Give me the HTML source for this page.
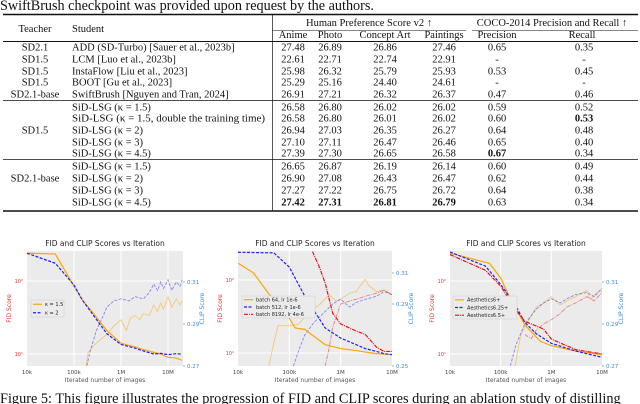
<!DOCTYPE html>
<html><head><meta charset="utf-8"><style>
html,body{margin:0;padding:0;background:#fff;width:640px;height:404px;overflow:hidden}
svg{display:block}
.serif{font-family:"Liberation Serif",serif}
.sans{font-family:"DejaVu Sans","Liberation Sans",sans-serif}
</style></head><body>
<svg id="root" width="640" height="404" viewBox="0 0 640 404" xmlns="http://www.w3.org/2000/svg">
<g class="serif" font-size="10.5" fill="#111">
<text x="0" y="10" font-size="14.2">SwiftBrush checkpoint was provided upon request by the authors.</text>
<line x1="3" y1="14.5" x2="638" y2="14.5" stroke="#111" stroke-width="1.6"/>
<line x1="3" y1="41.5" x2="638" y2="41.5" stroke="#111" stroke-width="1"/>
<line x1="3" y1="100.5" x2="638" y2="100.5" stroke="#111" stroke-width="0.7"/>
<line x1="3" y1="159.5" x2="638" y2="159.5" stroke="#111" stroke-width="0.7"/>
<line x1="3" y1="211" x2="638" y2="211" stroke="#111" stroke-width="1.6"/>
<line x1="272.5" y1="15" x2="272.5" y2="211" stroke="#111" stroke-width="0.7"/>
<line x1="272" y1="30.5" x2="466" y2="30.5" stroke="#111" stroke-width="0.6"/>
<line x1="472" y1="30.5" x2="638" y2="30.5" stroke="#111" stroke-width="0.6"/>
<text x="35" y="32" text-anchor="middle">Teacher</text>
<text x="72" y="32">Student</text>
<text x="369" y="26" text-anchor="middle">Human Preference Score v2 ↑</text>
<text x="552" y="26" text-anchor="middle">COCO-2014 Precision and Recall ↑</text>
<g text-anchor="middle">
<text x="293" y="38">Anime</text><text x="330" y="38">Photo</text><text x="385" y="38">Concept Art</text><text x="444" y="38">Paintings</text><text x="497" y="38">Precision</text><text x="582" y="38">Recall</text>
</g>
<g id="tbody"></g>
</g>
<g id="charts"></g>
<text class="serif" x="0" y="403" font-size="14.3" fill="#111">Figure 5: This figure illustrates the progression of FID and CLIP scores during an ablation study of distilling</text>
</svg>
<script>
const NS="http://www.w3.org/2000/svg";
function mk(tag,attrs,parent,txt){const e=document.createElementNS(NS,tag);for(const k in attrs)e.setAttribute(k,attrs[k]);if(txt!==undefined)e.textContent=txt;parent.appendChild(e);return e;}

// ---- table data ----
const rowY=[47,59,71,82,94,107,118,130,142,153,166,178,190,202];
const teachers=[["SD2.1",47],["SD1.5",59],["SD1.5",71],["SD1.5",82],["SD2.1-base",94],["SD1.5",130],["SD2.1-base",178]];
const students=["ADD (SD-Turbo) [Sauer et al., 2023b]","LCM [Luo et al., 2023b]","InstaFlow [Liu et al., 2023]","BOOT [Gu et al., 2023]","SwiftBrush [Nguyen and Tran, 2024]","SiD-LSG (κ = 1.5)","SiD-LSG (κ = 1.5, double the training time)","SiD-LSG (κ = 2)","SiD-LSG (κ = 3)","SiD-LSG (κ = 4.5)","SiD-LSG (κ = 1.5)","SiD-LSG (κ = 2)","SiD-LSG (κ = 3)","SiD-LSG (κ = 4.5)"];
const anime=["27.48","22.61","25.98","25.29","26.91","26.58","26.58","26.94","27.10","27.39","26.65","26.90","27.27","27.42"];
const photo=["26.89","22.71","26.32","25.16","27.21","26.80","26.80","27.03","27.11","27.30","26.87","27.08","27.22","27.31"];
const concept=["26.86","22.74","25.79","24.40","26.32","26.02","26.01","26.35","26.47","26.65","26.19","26.43","26.75","26.81"];
const paintings=["27.46","22.91","25.93","24.61","26.37","26.02","26.02","26.27","26.46","26.58","26.14","26.47","26.72","26.79"];
const precision=["0.65","-","0.53","-","0.47","0.59","0.60","0.64","0.65","0.67","0.60","0.62","0.64","0.63"];
const recall=["0.35","-","0.45","-","0.46","0.52","0.53","0.48","0.40","0.34","0.49","0.44","0.38","0.34"];
const bold={anime:[13],photo:[13],concept:[13],paintings:[13],precision:[9],recall:[6]};
const tb=document.getElementById('tbody');
teachers.forEach(t=>{const e=mk('text',{x:35,y:t[1]+3.5,'text-anchor':'middle'},tb,t[0]);

});
students.forEach((s,i)=>{const a={x:72,y:rowY[i]+3.5};if(i===6){a.textLength=193;a.lengthAdjust='spacingAndGlyphs';}
const e=mk('text',a,tb,s);

});
[[anime,293,'anime'],[photo,330,'photo'],[concept,385,'concept'],[paintings,444,'paintings'],[precision,497,'precision'],[recall,584,'recall']].forEach(c=>{
 c[0].forEach((v,i)=>{const a={x:c[1],y:rowY[i]+3.5,'text-anchor':'middle'};if(bold[c[2]].includes(i))a['font-weight']='bold';
 const e=mk('text',a,tb,v);
 
 });
});

// ---- chart data ----
const c1x_fid_a=[1e4,4e4,1e5,1.5e5,2.5e5,5e5,1e6,2e6,3e6,5e6,7e6,1e7,1.5e7,2e7];
const c1_fid_a=[240,235,85,55,37,21,14,12.5,11.5,10.5,10,9,8.8,8.2];
const c1x_fid_b=[1e4,4e4,1e5,1.5e5,2.5e5,5e5,1e6,2e6,3e6,5e6,7e6,1e7,1.5e7,2e7];
const c1_fid_b=[240,175,88,55,35,19,13.5,12,11,10,10.2,9.8,10.1,9.9];
const c1x_clip_a=[1.7e5,2e5,3e5,5e5,7e5,1e6,1.3e6,1.6e6,2e6,2.5e6,3e6,4e6,5e6,6e6,7e6,8e6,1e7,1.2e7,1.5e7,1.8e7,2e7];
const c1_clip_a=[0.266,0.2765,0.281,0.285,0.289,0.292,0.287,0.293,0.294,0.292,0.295,0.294,0.299,0.296,0.300,0.297,0.303,0.298,0.302,0.299,0.301];
const c1x_clip_b=[1.7e5,2.2e5,3e5,4e5,5e5,7e5,1e6,1.5e6,2e6,3e6,4e6,5e6,6e6,7e6,8e6,1e7,1.2e7,1.5e7,1.8e7,2e7];
const c1_clip_b=[0.266,0.277,0.287,0.293,0.298,0.301,0.302,0.301,0.303,0.302,0.305,0.309,0.306,0.310,0.307,0.311,0.306,0.310,0.308,0.311];

const c2x_fid_a=[1e4,2e4,5e4,1e5,1.3e5,2e5,5e5,1e6,2e6,3e6,5e6,1e7];
const c2_fid_a=[170,125,52,30,22,21,13,11.5,10.8,10.3,9.8,9.5];
const c2x_fid_b=[1e4,5e4,1e5,2e5,5e5,1e6,2e6,3e6,5e6,7e6,1e7];
const c2_fid_b=[240,235,150,60,22,16,13,11.5,10.5,9.8,9.5];
const c2x_fid_c=[2.5e5,4e5,5e5,7e5,1e6,2e6,3e6,5e6,7e6,1e7];
const c2_fid_c=[300,140,90,35,25,20,18,12,10.5,10.5];
const c2x_clip_a=[4e4,5e4,6e4,1e5,1.5e5,2.5e5,4e5,6e5,8e5,1e6,1.5e6,2e6,3e6,3.5e6,5e6,7e6,1e7];
const c2_clip_a=[0.25,0.265,0.276,0.276,0.277,0.285,0.29,0.296,0.292,0.293,0.297,0.298,0.306,0.302,0.298,0.299,0.296];
const c2x_clip_b=[1.2e5,1.6e5,2e5,3e5,4e5,7e5,1e6,1.5e6,2e6,3e6,5e6,7e6,1e7];
const c2_clip_b=[0.25,0.262,0.27,0.278,0.282,0.29,0.293,0.288,0.291,0.293,0.295,0.298,0.296];
const c2x_clip_c=[5e5,6e5,7e5,1e6,1.5e6,2e6,3e6,5e6,7e6,1e7];
const c2_clip_c=[0.25,0.262,0.275,0.29,0.292,0.293,0.295,0.297,0.299,0.296];

const c3x_fid_a=[1e4,6e4,1e5,1.5e5,3e5,6e5,1e6,3e6,1e7];
const c3_fid_a=[240,175,110,60,25,15,13,11,9.8];
const c3x_fid_b=[1e4,5e4,1e5,2e5,3e5,5e5,1e6,3e6,1e7];
const c3_fid_b=[250,160,90,45,27,19,14,11,9];
const c3x_fid_c=[1e4,5e4,1e5,2e5,3e5,7e5,1e6,3e6,1e7];
const c3_fid_c=[230,140,85,40,28,22,16,11.5,10];
const c3x_clip_a=[1.8e5,2.5e5,5e5,7e5,1e6,1.5e6,2e6,3e6,5e6,6e6,8e6,1e7];
const c3_clip_a=[0.266,0.285,0.298,0.300,0.303,0.299,0.301,0.303,0.306,0.302,0.305,0.306];
const c3x_clip_b=[1.4e5,2e5,3e5,5e5,7e5,1e6,1.5e6,2e6,3e6,5e6,7e6,1e7];
const c3_clip_b=[0.266,0.28,0.29,0.297,0.300,0.302,0.300,0.302,0.304,0.305,0.303,0.307];
const c3x_clip_c=[3e5,4e5,5e5,7e5,1e6,1.5e6,2e6,3e6,5e6,7e6,1e7];
const c3_clip_c=[0.285,0.283,0.287,0.29,0.292,0.295,0.298,0.300,0.303,0.301,0.305];

const xTickVals=[1e4,1e5,1e6,1e7];
const xTickLabels=["10k","100k","1M","10M"];
const fidTickVals=[10,100];

const ORANGE="#ffa500",BLUE="#2020ff",RED="#ee1111";
const charts=[
 {name:'chart-kappa',x0:27,x1:183,xmaxLog:7+15/47,top:251,bot:366,y100:281,clipMin:0.27,clipTicks:[0.27,0.29,0.31],clipTickLabels:["0.27","0.29","0.31"],clipPerPx:0.01/21,
  legend:{x:31,y:300,w:33,h:17},
  series:[{lab:"κ = 1.5",col:ORANGE,dash:"",fx:c1x_fid_a,fy:c1_fid_a,cx:c1x_clip_a,cy:c1_clip_a},
          {lab:"κ = 2",col:BLUE,dash:"3,1.5",fx:c1x_fid_b,fy:c1_fid_b,cx:c1x_clip_b,cy:c1_clip_b}]},
 {name:'chart-batch',x0:238,x1:392,xmaxLog:7,top:251,bot:366,y100:280,clipMin:0.25,clipTicks:[0.25,0.29,0.31],clipTickLabels:["0.25","0.29","0.31"],clipPerPx:0.01/15.5,
  legend:{x:242,y:296,w:73,h:22},
  series:[{lab:"batch 64, lr 1e-6",col:ORANGE,dash:"",fx:c2x_fid_a,fy:c2_fid_a,cx:c2x_clip_a,cy:c2_clip_a},
          {lab:"batch 512, lr 1e-6",col:BLUE,dash:"3,1.5",fx:c2x_fid_b,fy:c2_fid_b,cx:c2x_clip_b,cy:c2_clip_b},
          {lab:"batch 8192, lr 4e-6",col:RED,dash:"4,1,1,1",fx:c2x_fid_c,fy:c2_fid_c,cx:c2x_clip_c,cy:c2_clip_c}]},
 {name:'chart-aesthetics',x0:450,x1:602,xmaxLog:7,top:251,bot:366,y100:281,clipMin:0.27,clipTicks:[0.27,0.29,0.31],clipTickLabels:["0.27","0.29","0.31"],clipPerPx:0.01/21,
  legend:{x:453,y:296,w:64,h:23},
  series:[{lab:"Aesthetics6+",col:ORANGE,dash:"",fx:c3x_fid_a,fy:c3_fid_a,cx:c3x_clip_a,cy:c3_clip_a},
          {lab:"Aesthetics6.25+",col:BLUE,dash:"3,1.5",fx:c3x_fid_b,fy:c3_fid_b,cx:c3x_clip_b,cy:c3_clip_b},
          {lab:"Aesthetics6.5+",col:RED,dash:"4,1,1,1",fx:c3x_fid_c,fy:c3_fid_c,cx:c3x_clip_c,cy:c3_clip_c}]}
];
const root=document.getElementById('charts');
charts.forEach((c,ci)=>{
 const g=mk('g',{class:'sans'},root);
 
 
 const xs=v=>c.x0+(Math.log10(v)-4)*(c.x1-c.x0)/(c.xmaxLog-4);
 const fy=v=>c.y100+(2-Math.log10(v))*73;
 const cy=v=>c.bot-(v-c.clipMin)/c.clipPerPx;
 mk('rect',{x:c.x0,y:c.top,width:c.x1-c.x0,height:c.bot-c.top,fill:'#ebebeb'},g);
 const cpid='cp'+ci;
 const cp=mk('clipPath',{id:cpid},g);mk('rect',{x:c.x0,y:c.top,width:c.x1-c.x0,height:c.bot-c.top},cp);
 xTickVals.forEach((v,i)=>{const x=xs(v);
  if(x>c.x0+1&&x<c.x1-1)mk('line',{x1:x,x2:x,y1:c.top,y2:c.bot,stroke:'#fff','stroke-width':1},g);
  const t=mk('text',{x:x,y:c.bot+8,'font-size':5.5,fill:'#444','text-anchor':'middle'},g,xTickLabels[i]);
  
  });
 fidTickVals.forEach(v=>{const y=fy(v);
  mk('line',{x1:c.x0,x2:c.x1,y1:y,y2:y,stroke:'#fff','stroke-width':1},g);
  const t=mk('text',{x:c.x0-4,y:y+2,'font-size':5,fill:'#e03030','text-anchor':'end'},g,v===10?'10¹':'10²');
  
  });
 c.clipTicks.forEach((v,i)=>{const y=cy(v);
  mk('line',{x1:c.x1,x2:c.x1+2,y1:y,y2:y,stroke:'#3a8ad0','stroke-width':0.6},g);
  const t=mk('text',{x:c.x1+4,y:y+2,'font-size':5.5,fill:'#3a8ad0'},g,c.clipTickLabels[i]);
  
  });
 const pg=mk('g',{'clip-path':'url(#'+cpid+')'},g);
 c.series.forEach(s=>{
  const pc=mk('polyline',{points:s.cx.map((v,i)=>xs(v)+','+cy(s.cy[i])).join(' '),fill:'none',stroke:s.col,'stroke-opacity':0.5,'stroke-width':0.9,'stroke-dasharray':s.dash},pg);
  
  
 });
 c.series.forEach(s=>{
  const pf=mk('polyline',{points:s.fx.map((v,i)=>xs(v)+','+fy(s.fy[i])).join(' '),fill:'none',stroke:s.col,'stroke-width':1.2,'stroke-dasharray':s.dash},pg);
  
  
 });
 const cx=(c.x0+c.x1)/2;
 const tt=mk('text',{x:cx,y:246,'font-size':7.5,fill:'#222','text-anchor':'middle'},g,'FID and CLIP Scores vs Iteration');
 
 
 const xl=mk('text',{x:cx,y:382,'font-size':6,fill:'#555','text-anchor':'middle'},g,'Iterated number of images');
 
 
 const yl=mk('text',{x:0,y:0,'font-size':6,fill:'#e03030','text-anchor':'middle',transform:`translate(${c.x0-16},${(c.top+c.bot)/2}) rotate(-90)`},g,'FID Score');
 
 
 const yr=mk('text',{x:0,y:0,'font-size':6,fill:'#3a8ad0','text-anchor':'middle',transform:`translate(${c.x1+21},${(c.top+c.bot)/2}) rotate(-90)`},g,'CLIP Score');
 
 
 const L=c.legend;
 const lg=mk('g',{},g);
 
 
 mk('rect',{x:L.x,y:L.y,width:L.w,height:L.h,fill:'#ebebeb',stroke:'#ccc','stroke-width':0.5,rx:1},lg);
 const step=L.h/c.series.length;
 c.series.forEach((s,i)=>{const y=L.y+step*(i+0.5);
  mk('line',{x1:L.x+2,x2:L.x+11,y1:y,y2:y,stroke:s.col,'stroke-width':1.2,'stroke-dasharray':s.dash},lg);
  const t=mk('text',{x:L.x+14,y:y+1.8,'font-size':5,fill:'#222'},lg,s.lab);
  
  });
});
</script>
</body></html>
